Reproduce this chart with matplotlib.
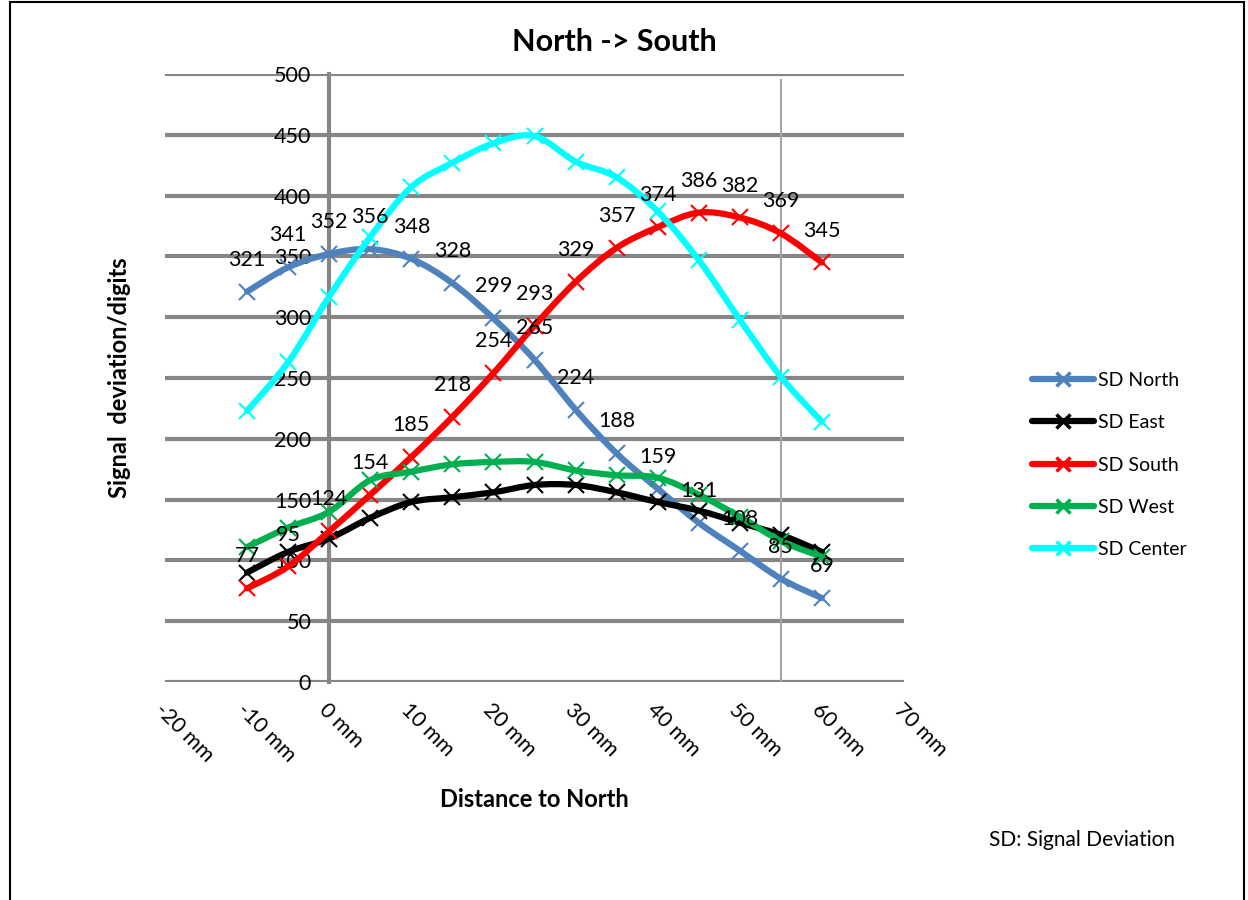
import matplotlib
matplotlib.use("Agg")
from matplotlib import pyplot as plt
from matplotlib.path import Path
from matplotlib.patches import PathPatch, Rectangle
from matplotlib.lines import Line2D

plt.rcParams['font.family'] = ['Lato', 'DejaVu Sans']

# Measured points (distance in mm, signal deviation in digits)
distance_mm = [-10, -5, 0, 5, 10, 15, 20, 25, 30, 35, 40, 45, 50, 55, 60]
sd_north = [321, 341, 352, 356, 348, 328, 299, 265, 224, 188, 159, 131, 108, 85, 69]
sd_east = [90, 107, 118, 135, 148, 152, 156, 162, 162, 156, 148, 141, 131, 121, 107]
sd_south = [77, 95, 124, 154, 185, 218, 254, 293, 329, 357, 374, 386, 382, 369, 345]
sd_west = [111, 127, 140, 166, 173, 179, 181, 181, 174, 170, 168, 154, 136, 116, 103]
sd_center = [223, 263, 317, 366, 407, 427, 443, 449, 428, 415, 387, 347, 298, 251, 214]

series_names = ["SD North", "SD East", "SD South", "SD West", "SD Center"]
series_colors = ["#4F81BD", "#000000", "#FF0000", "#00B050", "#00FFFF"]
x_ticks = [-20, -10, 0, 10, 20, 30, 40, 50, 60, 70]
y_ticks = [0, 50, 100, 150, 200, 250, 300, 350, 400, 450, 500]

GRID = "#868686"


# Excel-like smoothed line: cubic Bezier segments through the points
def smooth_path(xs, ys):
    pts = list(zip(xs, ys))
    verts = [pts[0]]
    codes = [Path.MOVETO]
    n = len(pts)
    for i in range(n - 1):
        p0 = pts[i - 1] if i > 0 else pts[i]
        p1 = pts[i]
        p2 = pts[i + 1]
        p3 = pts[i + 2] if i + 2 < n else pts[i + 1]
        c1 = (p1[0] + (p2[0] - p0[0]) / 6, p1[1] + (p2[1] - p0[1]) / 6)
        c2 = (p2[0] - (p3[0] - p1[0]) / 6, p2[1] - (p3[1] - p1[1]) / 6)
        verts += [c1, c2, p2]
        codes += [Path.CURVE4] * 3
    return Path(verts, codes)


fig = plt.figure(figsize=(12.48, 9), dpi=100)
ax = fig.add_axes([165 / 1248, 1 - 682 / 900, (904 - 165) / 1248, (682 - 74) / 900])

ax.set_xlim(-20, 70)
ax.set_ylim(0, 500)
ax.set_xticks(x_ticks)
ax.set_xticklabels([f"{t} mm" for t in x_ticks])
ax.set_yticks(y_ticks)

# horizontal gridlines + y axis sitting at 0 mm
for yv in y_ticks:
    ax.axhline(yv, color=GRID, lw=3, zorder=1)
for s in ["top", "right", "bottom"]:
    ax.spines[s].set_visible(False)
ax.spines["left"].set_position(("data", 0))
ax.spines["left"].set_color(GRID)
ax.spines["left"].set_linewidth(3)
ax.spines["left"].set_zorder(1)
ax.tick_params(axis="both", length=0, labelsize=15.5)
ax.tick_params(axis="y", pad=13)
ax.tick_params(axis="x", pad=13)
for lbl in ax.get_xticklabels():
    lbl.set_rotation(-45)
    lbl.set_ha("left")
    lbl.set_va("top")
    lbl.set_rotation_mode("anchor")

# thin marker line at 55 mm
ax.plot([55, 55], [0, 495], color="#A6A6A6", lw=1.5, zorder=1)

all_series = [sd_north, sd_east, sd_south, sd_west, sd_center]
handles = []
for vals, name, col in zip(all_series, series_names, series_colors):
    ax.add_patch(PathPatch(smooth_path(distance_mm, vals), fill=False,
                           edgecolor=col, lw=4.5, capstyle="round", zorder=3))
    ax.plot(distance_mm, vals, ls="none", marker="x", ms=12, mew=1.5,
            color=col, zorder=3)
    handles.append(Line2D([], [], color=col, lw=4.5, marker="x", ms=10, mew=2.5,
                          solid_capstyle="round"))

# value labels for North and South
for vals in [sd_north, sd_south]:
    for xv, yv in zip(distance_mm, vals):
        ax.annotate(str(yv), (xv, yv), xytext=(0, 23), textcoords="offset points",
                    ha="center", va="center", fontsize=15.5, zorder=5)

# chart title is centred on the whole chart area, not on the plot
fig.text(614 / 1248, 1 - 42 / 900, "North -> South", fontsize=22,
         fontweight="bold", ha="center", va="center")
ax.set_xlabel("Distance to North", fontsize=17, fontweight="bold", labelpad=16)
ax.set_ylabel("Signal  deviation/digits", fontsize=17, fontweight="bold")
ax.yaxis.set_label_coords(-0.046, 0.5)

fig.legend(handles, series_names, loc="center left",
           bbox_to_anchor=(1014 / 1248, 1 - 465 / 900), frameon=False,
           fontsize=14, handlelength=3.2, handletextpad=0.2, labelspacing=1.3)

fig.text(1175 / 1248, 1 - 840 / 900, "SD: Signal Deviation", fontsize=15,
         ha="right", va="center")

# outer chart frame
fig.patches.append(Rectangle((10 / 1248, -0.01), 1234 / 1248, 1.0 - 2 / 900 + 0.01,
                             transform=fig.transFigure, fill=False,
                             edgecolor="black", lw=1.5))

plt.savefig("out.png", dpi=100)
plt.close()
